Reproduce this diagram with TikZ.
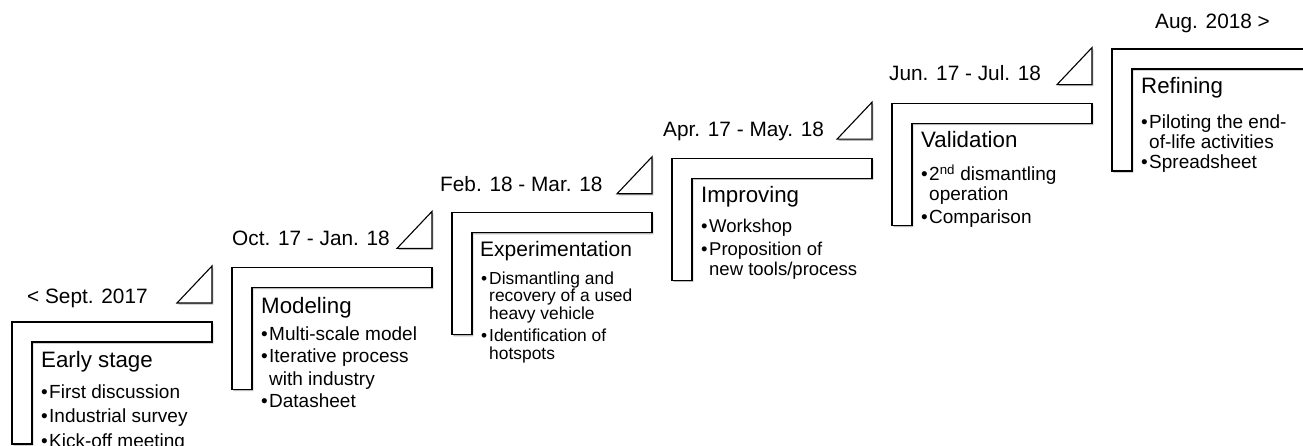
\documentclass[tikz,border=0pt]{standalone}
\usepackage{fontspec}
\setmainfont{Liberation Sans}
\usetikzlibrary{shadows}
\newcommand{\bl}[1]{\hbox{\makebox[8pt][l]{\textbullet}#1}}
\newcommand{\ct}[1]{\hbox{\hspace*{8pt}#1}}
\tikzset{
  lshape/.style={draw=black, line width=1.1pt, fill=white, line join=miter,
    drop shadow={shadow xshift=1.3pt, shadow yshift=-1.6pt, opacity=0.28, fill=black}},
  datelbl/.style={anchor=base west, inner sep=0pt, font=\fontsize{20.8}{25}\selectfont},
  ttl/.style={anchor=base west, inner sep=0pt, font=\fontsize{22.3}{26}\selectfont},
  blt/.style={anchor=base west, inner sep=0pt},
}
\begin{document}
\begin{tikzpicture}[x=1pt, y=-1pt]
\clip (0,0) rectangle (1303,446);
\fill[white] (0,0) rectangle (1303,446);
% L-shaped steps
\foreach \i in {0,...,5} {
  \pgfmathsetmacro\X{12+220*\i}
  \pgfmathsetmacro\Y{322-54.6*\i}
  \draw[lshape] (\X,\Y) -- ++(200,0) -- ++(0,20) -- ++(-180,0) -- ++(0,102) -- ++(-20,0) -- cycle;
}
% triangles
\foreach \i in {0,...,4} {
  \pgfmathsetmacro\X{12+220*\i}
  \pgfmathsetmacro\Y{322-54.6*\i}
  \draw[lshape] (\X+200,\Y-56) -- (\X+200,\Y-19) -- (\X+165,\Y-19) -- cycle;
}
% date labels
\node[datelbl] (d1) at (27,303) {< Sept. 2017};
\node[datelbl] (d2) at (232,246) {Oct. 17 - Jan. 18};
\node[datelbl] (d3) at (440,192) {Feb. 18 - Mar. 18};
\node[datelbl] (d4) at (663,137) {Apr. 17 - May. 18};
\node[datelbl] (d5) at (889,81) {Jun. 17 - Jul. 18};
\node[datelbl] (d6) at (1155,29) {Aug. 2018 >};
% titles
\node[ttl] (t1) at (41,367) {Early stage};
\node[ttl] (t2) at (261,313) {Modeling};
\node[ttl, font=\fontsize{21}{25}\selectfont] (t3) at (480,257) {Experimentation};
\node[ttl] (t4) at (701,203) {Improving};
\node[ttl] (t5) at (921,148) {Validation};
\node[ttl] (t6) at (1141,94) {Refining};
% bullets
\node[blt] (b1) at (41,398) {\vtop{\fontsize{19}{24.5}\selectfont
  \bl{First discussion}\bl{Industrial survey}\bl{Kick-off meeting}}};
\node[blt] (b2) at (261,340) {\vtop{\fontsize{19}{22.5}\selectfont
  \bl{Multi-scale model}\bl{Iterative process}\ct{with industry}\bl{Datasheet}}};
\node[blt] (b3) at (481,284) {\vtop{\fontsize{17.4}{17.5}\selectfont
  \bl{Dismantling and}\ct{recovery of a used}\ct{heavy vehicle}\vskip5pt
  \bl{Identification of}\ct{hotspots}}};
\node[blt] (b4) at (701,233) {\vtop{\fontsize{18.5}{20}\selectfont
  \bl{Workshop}\vskip3pt\bl{Proposition of}\ct{new tools/process}}};
\node[blt] (b5) at (921,181) {\vtop{\fontsize{19}{20}\selectfont
  \bl{2\textsuperscript{nd} dismantling}\ct{operation}\vskip3pt\bl{Comparison}}};
\node[blt] (b6) at (1141,129) {\vtop{\fontsize{19}{20}\selectfont
  \bl{Piloting the end-}\ct{of-life activities}\bl{Spreadsheet}}};
\end{tikzpicture}
\end{document}
